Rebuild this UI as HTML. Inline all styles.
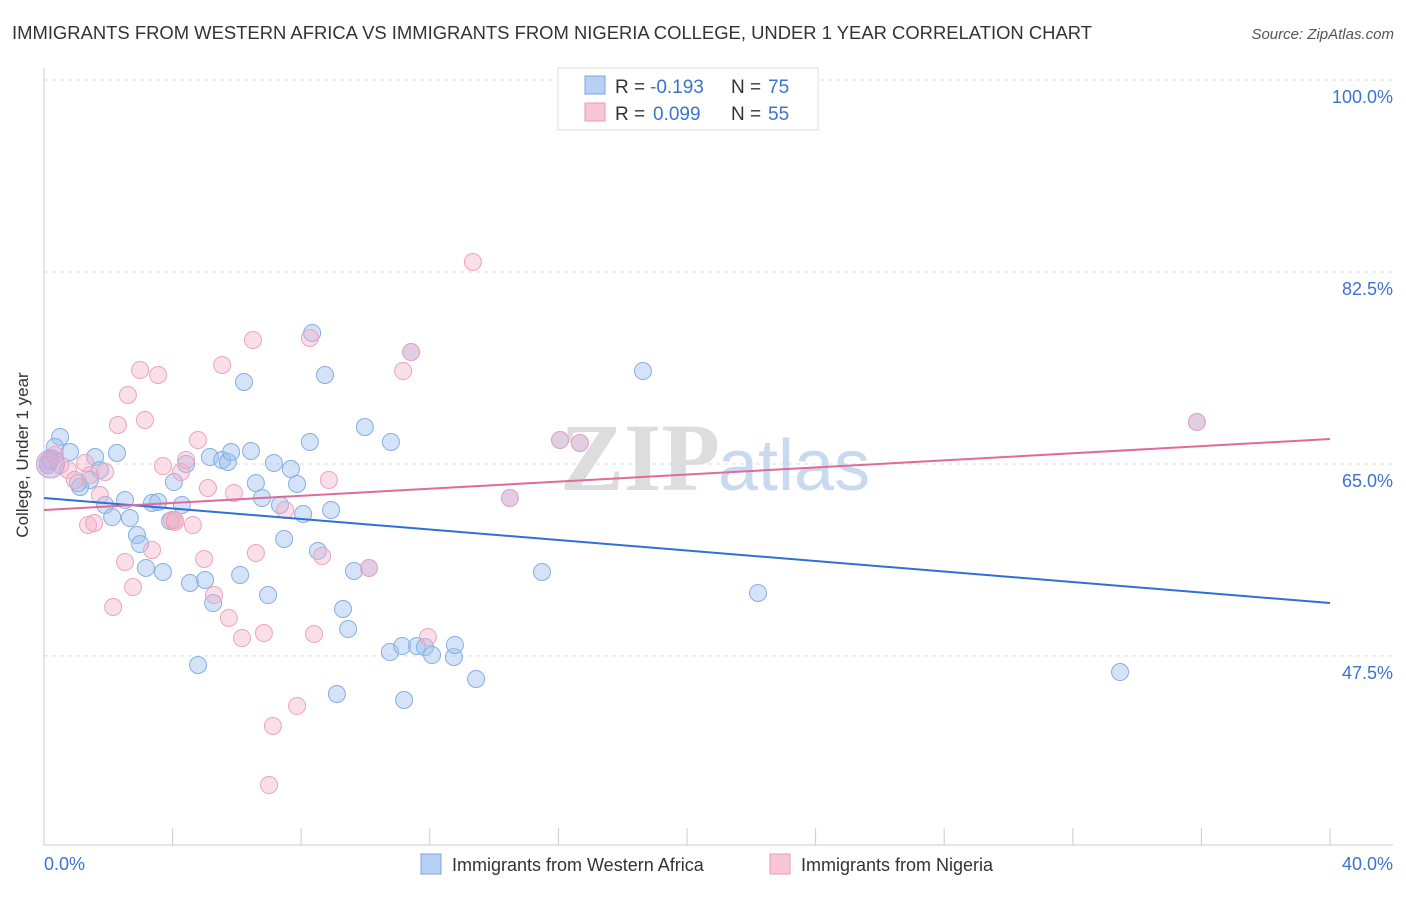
<!DOCTYPE html>
<html><head><meta charset="utf-8"><style>
body{margin:0;background:#fff;font-family:"Liberation Sans",sans-serif}
svg text{font-family:"Liberation Sans",sans-serif}
</style></head><body>
<svg width="1406" height="892">
<text x="12" y="39" font-size="18" fill="#333" textLength="1080" lengthAdjust="spacingAndGlyphs">IMMIGRANTS FROM WESTERN AFRICA VS IMMIGRANTS FROM NIGERIA COLLEGE, UNDER 1 YEAR CORRELATION CHART</text>
<text x="1394" y="39" font-size="15" fill="#555" text-anchor="end" font-style="italic">Source: ZipAtlas.com</text>
<g id="grid"></g>
<text x="720" y="490" font-size="96" fill="#ddd" text-anchor="end" font-weight="bold" style="font-family:'Liberation Serif',serif">ZIP</text>
<text x="718" y="490" font-size="72" fill="#c9daf0">atlas</text>
<line x1="44" y1="68" x2="44" y2="845" stroke="#ccc"/>
<line x1="44" y1="845" x2="1393" y2="845" stroke="#ccc"/>
<g id="ticks"></g>
<g id="pts"></g>
<g id="trend"></g>
<text x="28" y="455" font-size="17" fill="#333" text-anchor="middle" transform="rotate(-90 28 455)">College, Under 1 year</text>
<text x="44" y="870" font-size="18" fill="#3a73d0">0.0%</text>
<text x="1393" y="870" font-size="18" fill="#3a73d0" text-anchor="end">40.0%</text>
<g>
<rect x="558" y="68" width="260" height="62" fill="#fff" stroke="#ddd"/>
<rect x="585" y="76" width="20" height="18" fill="#b8d0f4" stroke="#7aa6e0"/>
<rect x="585" y="103" width="20" height="18" fill="#f9c6d6" stroke="#e99ab5"/>
<text x="615" y="93" font-size="19" fill="#333">R =</text>
<text x="650" y="93" font-size="19" fill="#3a73d0">-0.193</text>
<text x="731" y="93" font-size="19" fill="#333">N =</text>
<text x="768" y="93" font-size="19" fill="#3a73d0">75</text>
<text x="615" y="120" font-size="19" fill="#333">R =</text>
<text x="653" y="120" font-size="19" fill="#3a73d0">0.099</text>
<text x="731" y="120" font-size="19" fill="#333">N =</text>
<text x="768" y="120" font-size="19" fill="#3a73d0">55</text>
</g>
<g>
<rect x="421" y="854" width="20" height="20" fill="#b8d0f4" stroke="#7aa6e0"/>
<text x="452" y="871" font-size="18" fill="#333">Immigrants from Western Africa</text>
<rect x="770" y="854" width="20" height="20" fill="#f9c6d6" stroke="#e99ab5"/>
<text x="801" y="871" font-size="18" fill="#333">Immigrants from Nigeria</text>
</g>
</svg>
<script>
const yTicks=[100,82.5,65,47.5];
const yTickLabels=["100.0%","82.5%","65.0%","47.5%"];
const xTicks=[0,4,8,12,16,20,24,28,32,36,40];
const blueX=[0.5,0.34,0.81,1.59,2.27,1.74,1.43,1.12,1.06,2.52,1.9,2.12,2.67,3.36,3.55,4.29,3.92,2.89,2.99,3.17,3.7,4.54,5.01,5.26,4.79,4.04,4.42,5.16,5.54,5.72,5.82,6.44,6.22,6.78,7.15,6.59,7.68,7.87,7.47,6.97,6.1,7.34,8.06,8.34,8.27,8.74,8.93,8.52,9.64,9.3,9.46,9.11,9.98,10.79,11.42,10.76,11.14,11.2,11.6,11.85,12.07,12.75,12.78,13.44,15.49,14.49,16.05,16.67,18.63,22.21,33.47,35.86,10.11,0.19,0.12];
const blueY=[67.46,66.55,66.09,65.63,66.0,64.45,63.54,62.9,63.26,61.71,61.26,60.16,60.07,61.44,61.53,61.26,59.8,58.52,57.7,55.52,55.15,54.15,54.42,52.32,46.67,63.35,65.0,65.63,65.36,65.18,66.09,66.18,72.47,61.9,65.09,63.26,64.54,63.17,58.16,53.05,54.88,61.26,60.44,76.94,67.0,73.11,60.8,57.07,55.24,51.78,49.95,44.03,68.37,67.0,75.2,47.86,48.4,43.48,48.4,48.31,47.58,47.4,48.5,45.4,55.15,61.9,67.18,66.91,73.47,53.24,46.03,68.82,55.52,65.36,64.9];
const pinkX=[0.12,0.34,0.75,0.96,1.28,1.74,1.9,1.37,1.56,2.3,2.61,2.99,3.14,3.55,2.52,2.15,2.77,3.36,3.7,4.07,3.98,4.26,4.42,4.63,4.79,5.1,5.29,4.98,5.54,5.75,5.91,6.16,6.5,6.59,6.84,7.12,7.0,7.5,7.87,8.27,8.4,8.65,8.86,10.11,11.17,11.42,11.94,13.34,16.05,16.67,14.49,35.86,4.07,1.43,0.5];
const pinkY=[65.18,65.82,64.45,63.54,65.09,62.17,64.27,59.43,59.62,68.55,71.29,73.56,69.01,73.11,56.06,51.96,53.78,57.16,64.81,59.71,59.89,64.27,65.36,59.43,67.18,62.81,53.05,56.34,74.02,50.96,62.35,49.13,76.3,56.88,49.59,41.11,35.73,60.8,42.94,76.48,49.5,56.61,63.54,55.52,73.47,75.2,49.22,83.41,67.18,66.91,61.9,68.82,59.89,63.99,64.9];
const blueTrend=[61.9,52.32];
const pinkTrend=[60.8,67.27];
const NS='http://www.w3.org/2000/svg';
const X=v=>44+v*32.15, Y=v=>80+(100-v)*10.97;
function mk(t,a,p){const e=document.createElementNS(NS,t);for(const k in a)e.setAttribute(k,a[k]);p.appendChild(e);return e;}
const grid=document.getElementById('grid'),ticks=document.getElementById('ticks'),pts=document.getElementById('pts'),tr=document.getElementById('trend');
yTicks.forEach((v,i)=>{
 const l=mk('line',{x1:44,x2:1393,y1:Y(v),y2:Y(v),stroke:'#ddd','stroke-dasharray':'4,4'},grid);
 
 
 const t=mk('text',{x:1393,y:Y(v)+23,'font-size':18,fill:'#3a73d0','text-anchor':'end'},grid);
 t.textContent=yTickLabels[i];
 
 
});
xTicks.forEach(v=>{
 const l=mk('line',{x1:X(v),x2:X(v),y1:828,y2:845,stroke:'#ccc'},ticks);
 
 
});
function dots(xs,ys,fill,stroke,name){
 xs.forEach((x,i)=>{
  const c=mk('circle',{cx:X(x),cy:Y(ys[i]),r:8.5,fill:fill,stroke:stroke,'stroke-width':1},pts);
  
  
 });
}
dots(blueX,blueY,'rgba(160,192,240,0.45)','#86aee2','point-western-africa');
dots(pinkX,pinkY,'rgba(245,175,198,0.4)','#eba4bd','point-nigeria');
const big=mk('circle',{cx:X(0.2),cy:Y(65),r:14,fill:'rgba(190,170,220,0.5)',stroke:'#c4a0d0'},pts);


const b=mk('line',{x1:X(0),y1:Y(blueTrend[0]),x2:X(40),y2:Y(blueTrend[1]),stroke:'#2f6fd6','stroke-width':2},tr);


const p=mk('line',{x1:X(0),y1:Y(pinkTrend[0]),x2:X(40),y2:Y(pinkTrend[1]),stroke:'#e06a98','stroke-width':2},tr);


</script>
</body></html>
